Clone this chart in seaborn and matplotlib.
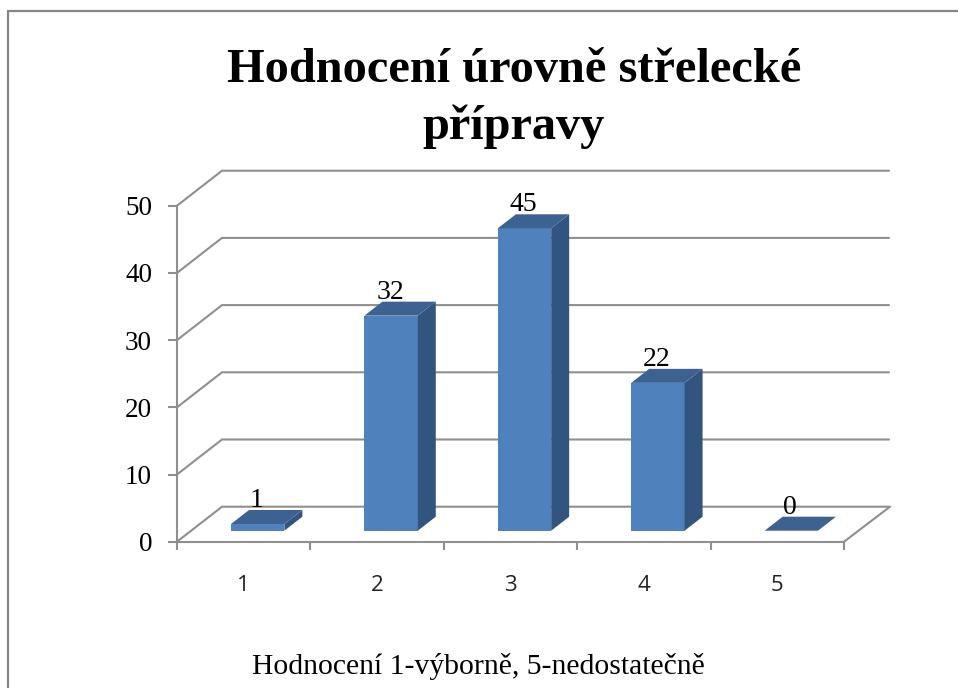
import matplotlib
matplotlib.use("Agg")
import matplotlib.pyplot as plt
from matplotlib.patches import Polygon, Rectangle
from matplotlib.transforms import Affine2D, IdentityTransform
import pandas as pd
import seaborn as sns

categories = ["1", "2", "3", "4", "5"]
values = [1, 32, 45, 22, 0]
y_ticks = [0, 10, 20, 30, 40, 50]
title_text = "Hodnocení úrovně střelecké\npřípravy"
xlabel_text = "Hodnocení 1-výborně, 5-nedostatečně"

W, H = 958, 688
GRID = "#8f8f8f"
FRONT, SIDE, TOP = "#4f81bd", "#31557f", "#3c6291"
SERIF = "Liberation Serif"
SANS = "Open Sans"

sns.set_theme(style="white")
plt.rcParams["font.family"] = [SERIF, "DejaVu Serif"]

fig = plt.figure(figsize=(W / 100, H / 100), dpi=100, facecolor="white")
x0, x1, ytop, ybot = 177, 844, 205.7, 541.7
ax = fig.add_axes([x0 / W, 1 - ybot / H, (x1 - x0) / W, (ybot - ytop) / H])
ax.patch.set_alpha(0)

df = pd.DataFrame({"cat": categories, "val": values})
sns.barplot(data=df, x="cat", y="val", color=FRONT, saturation=1, width=0.4, ax=ax, zorder=3)
ax.set_xlim(-0.5, 4.5)
ax.set_ylim(0, 50)
fig.canvas.draw()

# pixel offsets of the pseudo-3D construction
BACK_DX, BACK_DY = 45, 35
BAR_DX, BAR_DY = 14, 11
DEPTH_DX, DEPTH_DY = 18, 14
identity = IdentityTransform()

# walls: gridlines run from the axis to the back plane
for t in y_ticks:
    px, py = ax.transData.transform((-0.5, t))
    qx, _ = ax.transData.transform((4.5, t))
    ax.plot([px, px + BACK_DX, qx + BACK_DX], [py, py + BACK_DY, py + BACK_DY],
            transform=identity, color=GRID, lw=1.5, clip_on=False, zorder=1,
            solid_joinstyle="miter")
px, py = ax.transData.transform((4.5, 0))
ax.plot([px, px + BACK_DX + 1], [py, py + BACK_DY], transform=identity,
        color=GRID, lw=1.5, clip_on=False, zorder=1)

# bars: shift seaborn's rectangles and add the side and top faces
shift = ax.transData + Affine2D().translate(BAR_DX, BAR_DY)
for bar in list(ax.patches):
    bar.set_transform(shift)
    bar.set_clip_on(False)
    bar.set_edgecolor("none")
    a = shift.transform((bar.get_x(), 0))
    b = shift.transform((bar.get_x() + bar.get_width(), bar.get_height()))
    (l, s), (r, t) = a, b
    d = (DEPTH_DX, DEPTH_DY)
    ax.add_patch(Polygon([(r, s), (r + d[0], s + d[1]), (r + d[0], t + d[1]), (r, t)],
                         transform=identity, facecolor=SIDE, edgecolor="none",
                         clip_on=False, zorder=3))
    ax.add_patch(Polygon([(l, t), (r, t), (r + d[0], t + d[1]), (l + d[0], t + d[1])],
                         transform=identity, facecolor=TOP, edgecolor="none",
                         clip_on=False, zorder=3))

# data labels
for i, v in enumerate(values):
    ax.annotate(str(v), xy=(i, v), xytext=(13, 28), xycoords="data",
                textcoords="offset pixels", ha="center", va="baseline",
                fontsize=20, color="black", annotation_clip=False, zorder=5)

# axes
sns.despine(ax=ax)
for side in ("left", "bottom"):
    ax.spines[side].set_color(GRID)
    ax.spines[side].set_linewidth(1.5)
    ax.spines[side].set_zorder(2)
ax.set_yticks(y_ticks)
ax.tick_params(axis="y", left=True, length=6.5, width=1.5, color=GRID, pad=11.5,
               labelsize=19.5, labelcolor="black")
ax.set_xticks([i - 0.5 for i in range(len(categories) + 1)])
ax.set_xticklabels([])
ax.set_xticks(range(len(categories)), labels=categories, minor=True)
ax.tick_params(axis="x", which="major", bottom=True, length=6, width=1.5, color=GRID)
ax.tick_params(axis="x", which="minor", bottom=False, length=0, pad=24)
for lab in ax.get_xticklabels(minor=True):
    lab.set_fontfamily(SANS)
    lab.set_fontsize(16)
    lab.set_color("#222222")
ax.set_xlabel("")
ax.set_ylabel("")

# title, axis title, chart frame
fig.text(514 / W, 1 - 48 / H, title_text, ha="center", va="top", fontsize=34.8,
         fontweight="bold", color="black", linespacing=1.36)
fig.text(478 / W, 1 - 674 / H, xlabel_text, ha="center", va="baseline",
         fontsize=21.3, color="black")
fig.add_artist(Rectangle((8 / W, 1 - 700 / H), 970 / W, 689 / H, transform=fig.transFigure,
                         facecolor="none", edgecolor="#868686", lw=1.6))

fig.savefig("out.png", dpi=100)
